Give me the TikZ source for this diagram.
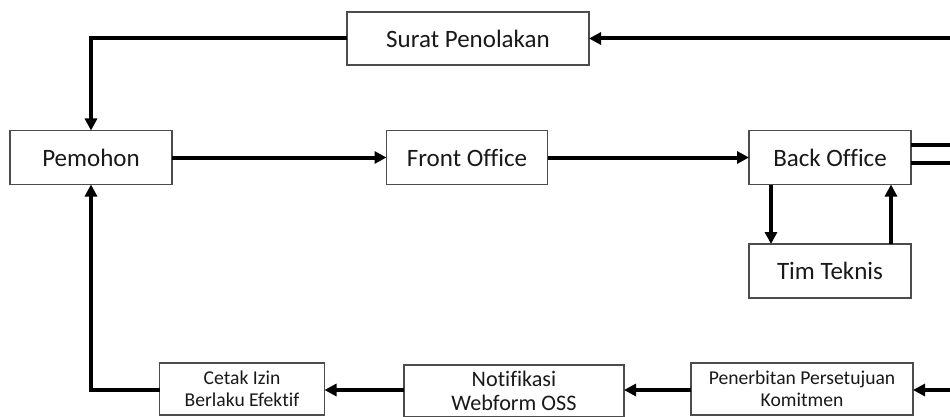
\documentclass[tikz,border=0pt]{standalone}
\usepackage{fontspec}
\setmainfont{Carlito}[Ligatures=NoCommon]
\usetikzlibrary{arrows.meta}
\begin{document}
\begin{tikzpicture}[x=1pt,y=-1pt,
  box/.style={draw=black!70,line width=1.3pt,inner sep=0pt,outer sep=0pt,align=center,fill=white,text=black!90},
  big/.style={font=\fontsize{25}{29}\selectfont},
  mid/.style={font=\fontsize{22.2}{24.5}\selectfont},
  small/.style={font=\fontsize{19.6}{22}\selectfont},
  arr/.style={line width=4pt,-{Triangle[length=12pt,width=12pt]}},
  thk/.style={line width=4pt}]
\useasboundingbox (0,0) rectangle (950,417);
\clip (0,0) rectangle (950,417);
\fill[white] (0,0) rectangle (950,417);
% nodes
\node[box,big,minimum width=242pt,minimum height=53pt] (surat) at (468,38.5) {Surat Penolakan};
\node[box,big,minimum width=162pt,minimum height=54pt] (pem) at (91,157.5) {Pemohon};
\node[box,big,minimum width=161pt,minimum height=54pt] (fo) at (467,157.5) {Front Office};
\node[box,big,minimum width=162pt,minimum height=54pt] (bo) at (830,157.5) {Back Office};
\node[box,big,minimum width=162pt,minimum height=54pt] (tt) at (830,271) {Tim Teknis};
\node[box,small,minimum width=165pt,minimum height=52pt] (cetak) at (242,389) {Cetak Izin\\Berlaku Efektif};
\node[box,mid,minimum width=220pt,minimum height=52pt] (notif) at (514,391) {Notifikasi\\Webform OSS};
\node[box,small,minimum width=222pt,minimum height=52pt] (pen) at (802,389) {Penerbitan Persetujuan\\Komitmen};
% free ends off the right edge
\coordinate (r1) at (965,38.5);
\coordinate (bo1) at (965,145);
\coordinate (bo2) at (965,163);
\coordinate (r2) at (965,390);
% connectors
\draw[arr] (r1) -- (surat.east);
\draw[arr] (surat.west) -| (pem.north);
\draw[arr] (pem) -- (fo);
\draw[arr] (fo) -- (bo);
\draw[thk] (bo.east |- bo1) -- (bo1);
\draw[thk] (bo.east |- bo2) -- (bo2);
\draw[arr] ([xshift=-59pt]bo.south) -- ([xshift=-59pt]tt.north);
\draw[arr] ([xshift=61pt]tt.north) -- ([xshift=61pt]bo.south);
\draw[arr] (r2) -- (pen.east |- r2);
\draw[arr] (pen.west |- r2) -- (notif.east |- r2);
\draw[arr] (notif.west |- r2) -- (cetak.east |- r2);
\draw[arr] (cetak.west |- r2) -| (pem.south);
\end{tikzpicture}
\end{document}
